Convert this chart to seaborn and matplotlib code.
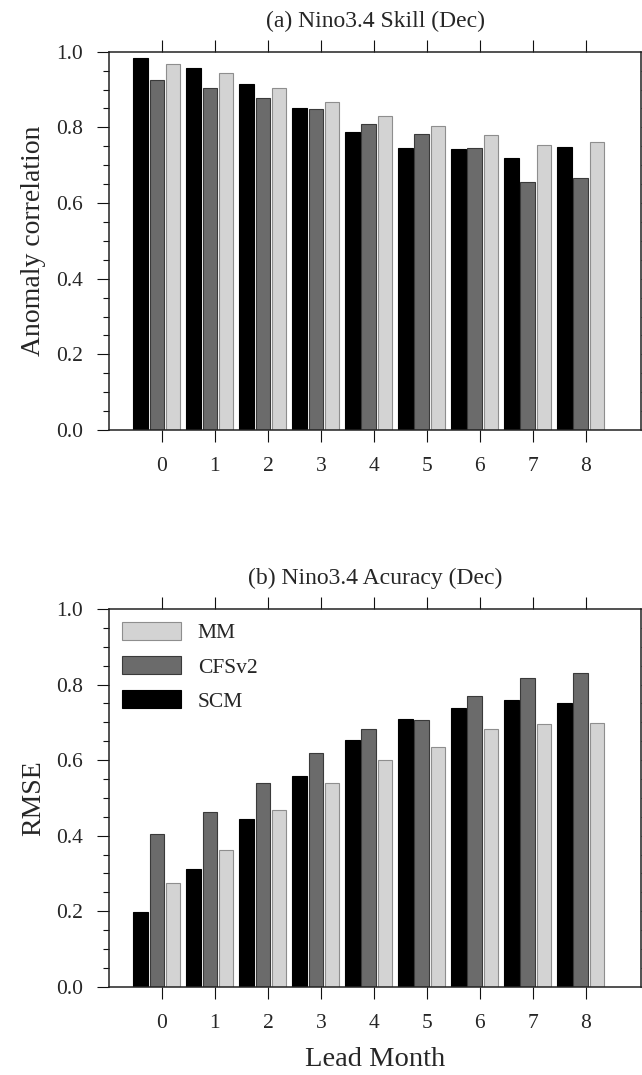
import numpy as np
import pandas as pd
import matplotlib
matplotlib.use("Agg")
import matplotlib.pyplot as plt
import seaborn as sns
from matplotlib.ticker import MultipleLocator, FormatStrFormatter
from matplotlib.patches import Patch

# Nino3.4 verification for December targets, by lead month
lead_months = [0, 1, 2, 3, 4, 5, 6, 7, 8]
models = ["SCM", "CFSv2", "MM"]

# Anomaly correlation
acc_scm = [0.984, 0.958, 0.914, 0.850, 0.789, 0.745, 0.742, 0.719, 0.747]
acc_cfsv2 = [0.924, 0.904, 0.878, 0.849, 0.808, 0.782, 0.746, 0.656, 0.666]
acc_mm = [0.967, 0.943, 0.905, 0.868, 0.829, 0.803, 0.780, 0.753, 0.762]

# Root-mean-square error
rmse_scm = [0.197, 0.311, 0.444, 0.559, 0.652, 0.709, 0.739, 0.758, 0.750]
rmse_cfsv2 = [0.403, 0.462, 0.539, 0.619, 0.683, 0.706, 0.769, 0.817, 0.831]
rmse_mm = [0.275, 0.362, 0.467, 0.539, 0.600, 0.635, 0.683, 0.695, 0.697]

fill_colors = {"SCM": "#000000", "CFSv2": "#6b6b6b", "MM": "#d3d3d3"}
edge_colors = {"SCM": "#000000", "CFSv2": "#3a3a3a", "MM": "#8e8e8e"}


def long_table(scm, cfsv2, mm):
    rows = []
    for name, vals in zip(models, [scm, cfsv2, mm]):
        for m, v in zip(lead_months, vals):
            rows.append({"lead": m, "model": name, "value": v})
    return pd.DataFrame(rows)


sns.set_style("ticks")
plt.rcParams["font.family"] = ["Liberation Serif", "DejaVu Serif"]
plt.rcParams["axes.linewidth"] = 1.1

fig = plt.figure(figsize=(6.42, 10.75), dpi=100)
W, H = 642.0, 1075.0
ax_top = fig.add_axes([109 / W, 1 - 430 / H, 532 / W, 378.3 / H])
ax_bot = fig.add_axes([109 / W, 1 - 986.7 / H, 532 / W, 377.7 / H])


def draw_panel(ax, df, title, ylabel):
    sns.barplot(data=df, x="lead", y="value", hue="model", hue_order=models,
                order=lead_months, palette=fill_colors, width=0.915, gap=0.115,
                legend=False, errorbar=None, ax=ax, linewidth=0.8)
    for cont, name in zip(ax.containers, models):
        for p in cont:
            p.set_edgecolor(edge_colors[name])
            # groups sit slightly left of each lead-month tick
            p.set_x(p.get_x() - 0.1)
    ax.set_xlim(-1.0, 9.04)
    ax.set_ylim(0.0, 1.0)
    ax.yaxis.set_major_locator(MultipleLocator(0.2))
    ax.yaxis.set_minor_locator(MultipleLocator(0.05))
    ax.yaxis.set_major_formatter(FormatStrFormatter("%.1f"))
    ax.set_xticks(range(len(lead_months)))
    ax.set_xticklabels([str(m) for m in lead_months])
    ax.tick_params(axis="x", which="both", top=True, bottom=True, direction="out",
                   length=8.6, width=0.8, pad=11, labelsize=15.5, color="#111111")
    ax.tick_params(axis="y", which="both", left=True, right=True, direction="out",
                   width=0.8, pad=10, labelsize=15.5, color="#111111")
    ax.tick_params(axis="y", which="major", length=8.6)
    ax.tick_params(axis="y", which="minor", length=4.3)
    for s in ax.spines.values():
        s.set_visible(True)
        s.set_color("#222222")
    ax.set_title(title, fontsize=17, pad=18)
    ax.set_ylabel(ylabel, fontsize=20, labelpad=7)
    ax.set_xlabel("")


draw_panel(ax_top, long_table(acc_scm, acc_cfsv2, acc_mm),
           "(a) Nino3.4 Skill (Dec)", "Anomaly correlation")
draw_panel(ax_bot, long_table(rmse_scm, rmse_cfsv2, rmse_mm),
           "(b) Nino3.4 Acuracy (Dec)", "RMSE")
ax_bot.set_xlabel("Lead Month", fontsize=20.5, labelpad=10)

handles = [Patch(facecolor=fill_colors[m], edgecolor=edge_colors[m], linewidth=0.8, label=m)
           for m in models[::-1]]
ax_bot.legend(handles=handles, loc="upper left", frameon=False, fontsize=15.5,
              handlelength=2.74, handleheight=0.93, handletextpad=0.79,
              labelspacing=0.58, borderpad=0.0, borderaxespad=0.6)

fig.savefig("out.png", dpi=100)
